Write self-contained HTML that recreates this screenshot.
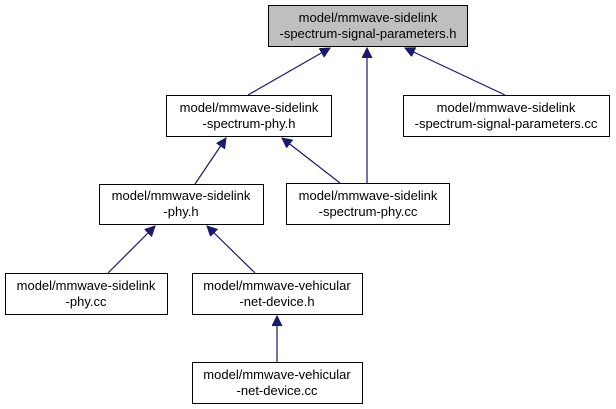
<!DOCTYPE html>
<html><head><meta charset="utf-8"><style>
html,body{margin:0;padding:0;background:#fff;}
svg{display:block;}
text{font-family:"Liberation Sans",Helvetica,sans-serif;font-size:13px;fill:#000;text-anchor:middle;}
</style></head><body>
<svg width="616" height="409" viewBox="0 0 616 409" xmlns="http://www.w3.org/2000/svg">
<defs>
<marker id="a" markerWidth="12" markerHeight="12" refX="10" refY="5" orient="auto" markerUnits="userSpaceOnUse">
<path d="M0,0 L10,5 L0,10 Z" fill="#191970" stroke="#191970"/>
</marker>
</defs>
<g stroke="#191970" stroke-width="1.2" fill="none" marker-end="url(#a)">
<line x1="248" y1="95" x2="330" y2="48"/>
<line x1="367" y1="183" x2="367" y2="48"/>
<line x1="505" y1="95" x2="405" y2="48"/>
<line x1="195" y1="184" x2="226" y2="138"/>
<line x1="340" y1="183" x2="282" y2="138"/>
<line x1="108" y1="273" x2="155" y2="226"/>
<line x1="255" y1="273" x2="207" y2="226"/>
<line x1="277" y1="362" x2="277" y2="316"/>
</g>
<g stroke="#000" stroke-width="1">
<rect x="268.5" y="5.5" width="199" height="41" fill="#bfbfbf"/>
<rect x="166.5" y="95.5" width="165" height="41" fill="#fff"/>
<rect x="403.5" y="95.5" width="206" height="41" fill="#fff"/>
<rect x="99.5" y="184.5" width="164" height="40" fill="#fff"/>
<rect x="286.5" y="183.5" width="163" height="41" fill="#fff"/>
<rect x="5.5" y="273.5" width="162" height="41" fill="#fff"/>
<rect x="192.5" y="273.5" width="170" height="41" fill="#fff"/>
<rect x="192.5" y="362.5" width="170" height="41" fill="#fff"/>
</g>
<text x="368" y="22">model/mmwave-sidelink</text>
<text x="368" y="38">-spectrum-signal-parameters.h</text>
<text x="249" y="112">model/mmwave-sidelink</text>
<text x="249" y="128">-spectrum-phy.h</text>
<text x="506" y="112">model/mmwave-sidelink</text>
<text x="506" y="128">-spectrum-signal-parameters.cc</text>
<text x="181" y="200">model/mmwave-sidelink</text>
<text x="181" y="216">-phy.h</text>
<text x="368" y="200">model/mmwave-sidelink</text>
<text x="368" y="216">-spectrum-phy.cc</text>
<text x="86" y="290">model/mmwave-sidelink</text>
<text x="86" y="306">-phy.cc</text>
<text x="277" y="290">model/mmwave-vehicular</text>
<text x="277" y="306">-net-device.h</text>
<text x="277" y="379">model/mmwave-vehicular</text>
<text x="277" y="395">-net-device.cc</text>
</svg>
</body></html>
